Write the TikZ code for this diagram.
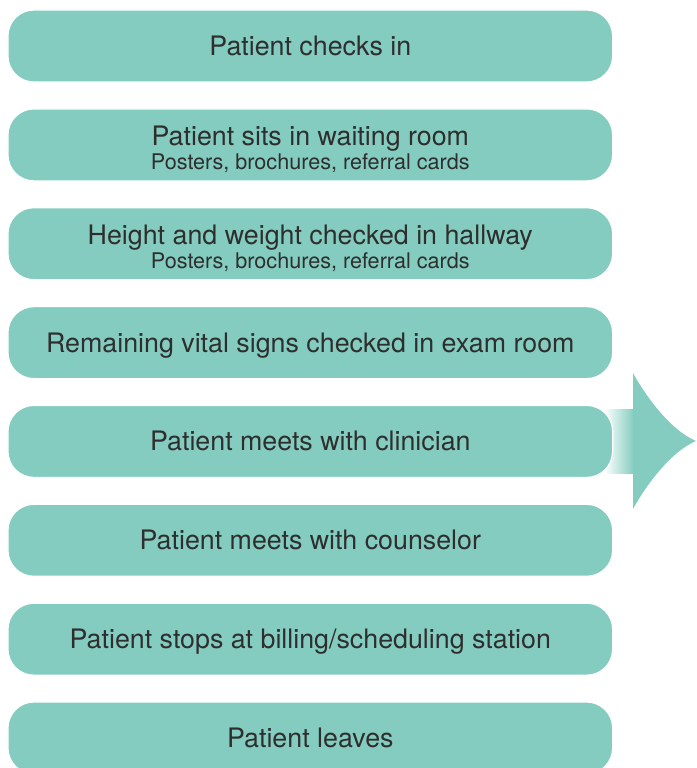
\documentclass[tikz,border=0pt]{standalone}
\usepackage{fontspec}
\setmainfont{TeX Gyre Heros}
\definecolor{tealbox}{HTML}{83CCBF}
\definecolor{txt}{HTML}{2E2E2E}
\begin{document}
\begin{tikzpicture}[x=1pt,y=-1pt,
  box/.style={rounded corners=26pt, fill=tealbox, draw=white, line width=1.2pt,
    minimum width=604.7pt, minimum height=72pt, inner sep=0pt},
  maintxt/.style={font=\fontsize{26.8}{30}\selectfont, text=txt, anchor=base, inner sep=0pt},
  subtxt/.style={font=\fontsize{21.6}{24}\selectfont, text=txt, anchor=base, inner sep=0pt}]
\useasboundingbox (0,0) rectangle (696,768);
\clip (0,0) rectangle (696,768);
% arrow
\shade[left color=white, right color=tealbox] (604,409) rectangle (634,473);
\fill[tealbox] (633,373) .. controls (645,395) and (670,430) .. (696,441)
  .. controls (670,452) and (645,487) .. (633,509) -- cycle;
% boxes
\node[box] (b1) at (310.3,46) {};
\node[box] (b2) at (310.3,144.9) {};
\node[box] (b3) at (310.3,243.7) {};
\node[box] (b4) at (310.3,342.6) {};
\node[box] (b5) at (310.3,441.4) {};
\node[box] (b6) at (310.3,540.3) {};
\node[box] (b7) at (310.3,639.2) {};
\node[box] (b8) at (310.3,738) {};
% texts
\node[maintxt] (t1) at ([yshift=-9.5pt]b1.center) {Patient checks in};
\node[maintxt] (t2) at ([yshift=-1pt]b2.center) {Patient sits in waiting room};
\node[subtxt] (s2) at ([yshift=-25pt]b2.center) {Posters, brochures, referral cards};
\node[maintxt] (t3) at ([yshift=-1pt]b3.center) {Height and weight checked in hallway};
\node[subtxt] (s3) at ([yshift=-25pt]b3.center) {Posters, brochures, referral cards};
\node[maintxt] (t4) at ([yshift=-9.5pt]b4.center) {Remaining vital signs checked in exam room};
\node[maintxt] (t5) at ([yshift=-9.5pt]b5.center) {Patient meets with clinician};
\node[maintxt] (t6) at ([yshift=-9.5pt]b6.center) {Patient meets with counselor};
\node[maintxt] (t7) at ([yshift=-9.5pt]b7.center) {Patient stops at billing/scheduling station};
\node[maintxt] (t8) at ([yshift=-9.5pt]b8.center) {Patient leaves};
\end{tikzpicture}
\end{document}
